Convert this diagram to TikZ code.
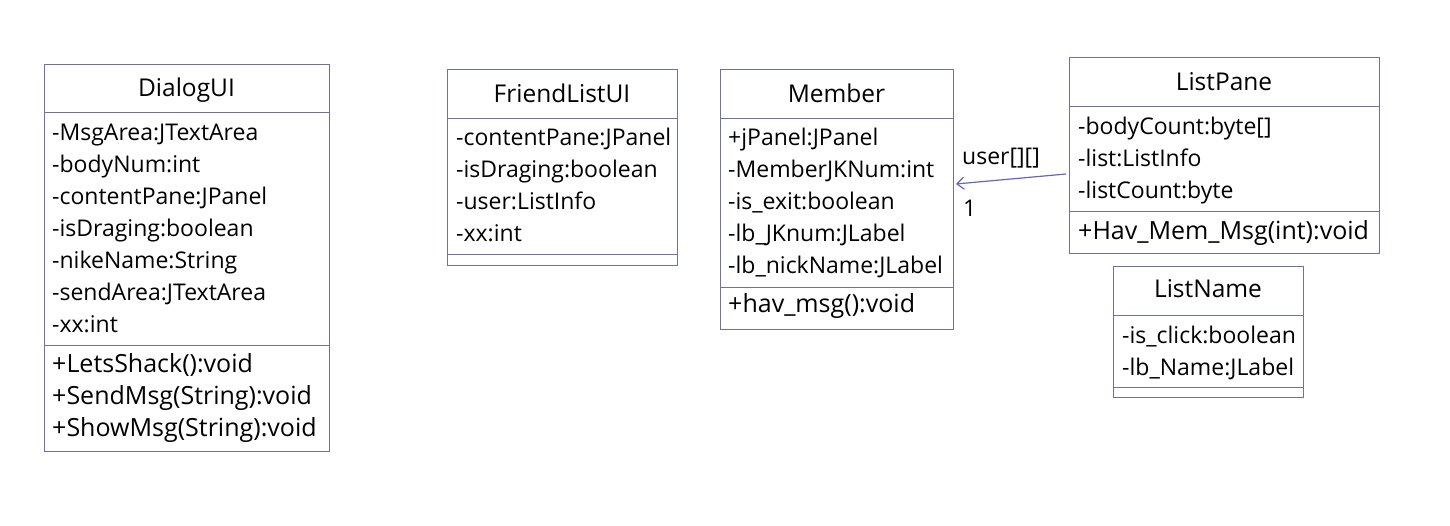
\documentclass[tikz,border=0pt]{standalone}
\usepackage{fontspec}
\setmainfont{Open Sans}
\usetikzlibrary{arrows.meta,calc}
\definecolor{boxline}{RGB}{112,112,168}
\definecolor{arrowc}{RGB}{102,102,190}
\tikzset{
  classbox/.style={draw=boxline, line width=1pt, inner sep=0pt, anchor=north west},
  sep/.style={draw=boxline, line width=1pt},
  txt/.style={anchor=base west, inner sep=0pt, font=\fontsize{23}{27}\selectfont},
  mtxt/.style={anchor=base west, inner sep=0pt, font=\fontsize{25}{29}\selectfont},
  ttl/.style={anchor=base, inner sep=0pt, font=\fontsize{24.5}{29}\selectfont},
  assoc/.style={draw=arrowc, line width=1.2pt, -{Straight Barb[length=7pt,width=12pt]}},
  lbl/.style={anchor=base west, inner sep=0pt, font=\fontsize{23}{27}\selectfont}
}
\begin{document}
\begin{tikzpicture}[x=1pt,y=-1pt]
\useasboundingbox (0,0) rectangle (1450,526);
% DialogUI
\node[classbox, minimum width=285pt, minimum height=387pt] (dialog) at (44,64) {};
\draw[sep] (44,113) -- (329,113);
\draw[sep] (44,345) -- (329,345);
\node[ttl] (dialogT) at (186.5,97) {DialogUI};
\node[txt] (d1) at (52,141) {-MsgArea:JTextArea};
\node[txt] (d2) at (52,173) {-bodyNum:int};
\node[txt] (d3) at (52,205) {-contentPane:JPanel};
\node[txt] (d4) at (52,237) {-isDraging:boolean};
\node[txt] (d5) at (52,269) {-nikeName:String};
\node[txt] (d6) at (52,301) {-sendArea:JTextArea};
\node[txt] (d7) at (52,333) {-xx:int};
\node[mtxt] (dm1) at (52,372) {+LetsShack():void};
\node[mtxt] (dm2) at (52,404) {+SendMsg(String):void};
\node[mtxt] (dm3) at (52,436) {+ShowMsg(String):void};
% FriendListUI
\node[classbox, minimum width=230pt, minimum height=196pt] (friend) at (447,69) {};
\draw[sep] (447,119) -- (677,119);
\draw[sep] (447,255) -- (677,255);
\node[ttl] (friendT) at (562,103) {FriendListUI};
\node[txt] (f1) at (456,146) {-contentPane:JPanel};
\node[txt] (f2) at (456,178) {-isDraging:boolean};
\node[txt] (f3) at (456,210) {-user:ListInfo};
\node[txt] (f4) at (456,242) {-xx:int};
% Member
\node[classbox, minimum width=233pt, minimum height=260pt] (member) at (720,69) {};
\draw[sep] (720,119) -- (953,119);
\draw[sep] (720,288) -- (953,288);
\node[ttl] (memberT) at (836.5,103) {Member};
\node[txt] (m1) at (728,146) {+jPanel:JPanel};
\node[txt] (m2) at (728,178) {-MemberJKNum:int};
\node[txt] (m3) at (728,210) {-is\_exit:boolean};
\node[txt] (m4) at (728,242) {-lb\_JKnum:JLabel};
\node[txt] (m5) at (728,274) {-lb\_nickName:JLabel};
\node[mtxt] (mm1) at (728,313) {+hav\_msg():void};
% ListPane
\node[classbox, minimum width=310pt, minimum height=196pt] (listpane) at (1069,57) {};
\draw[sep] (1069,107) -- (1379,107);
\draw[sep] (1069,212) -- (1379,212);
\node[ttl] (listpaneT) at (1224,91) {ListPane};
\node[txt] (l1) at (1078,135) {-bodyCount:byte[]};
\node[txt] (l2) at (1078,167) {-list:ListInfo};
\node[txt] (l3) at (1078,199) {-listCount:byte};
\node[mtxt] (lm1) at (1078,240) {+Hav\_Mem\_Msg(int):void};
% ListName
\node[classbox, minimum width=190pt, minimum height=131pt] (listname) at (1113,266) {};
\draw[sep] (1113,316) -- (1303,316);
\draw[sep] (1113,387) -- (1303,387);
\node[ttl] (listnameT) at (1208,298) {ListName};
\node[txt] (n1) at (1122,343) {-is\_click:boolean};
\node[txt] (n2) at (1122,375) {-lb\_Name:JLabel};
% association
\coordinate (aStart) at ($(listpane.north west)+(-3,117)$);
\coordinate (aEnd) at ($(member.north east)+(2,115)$);
\draw[assoc] (aStart) -- (aEnd);
\node[lbl] (roleA) at (962,165) {user[][]};
\node[lbl] (multA) at (963,217) {1};
\end{tikzpicture}
\end{document}
